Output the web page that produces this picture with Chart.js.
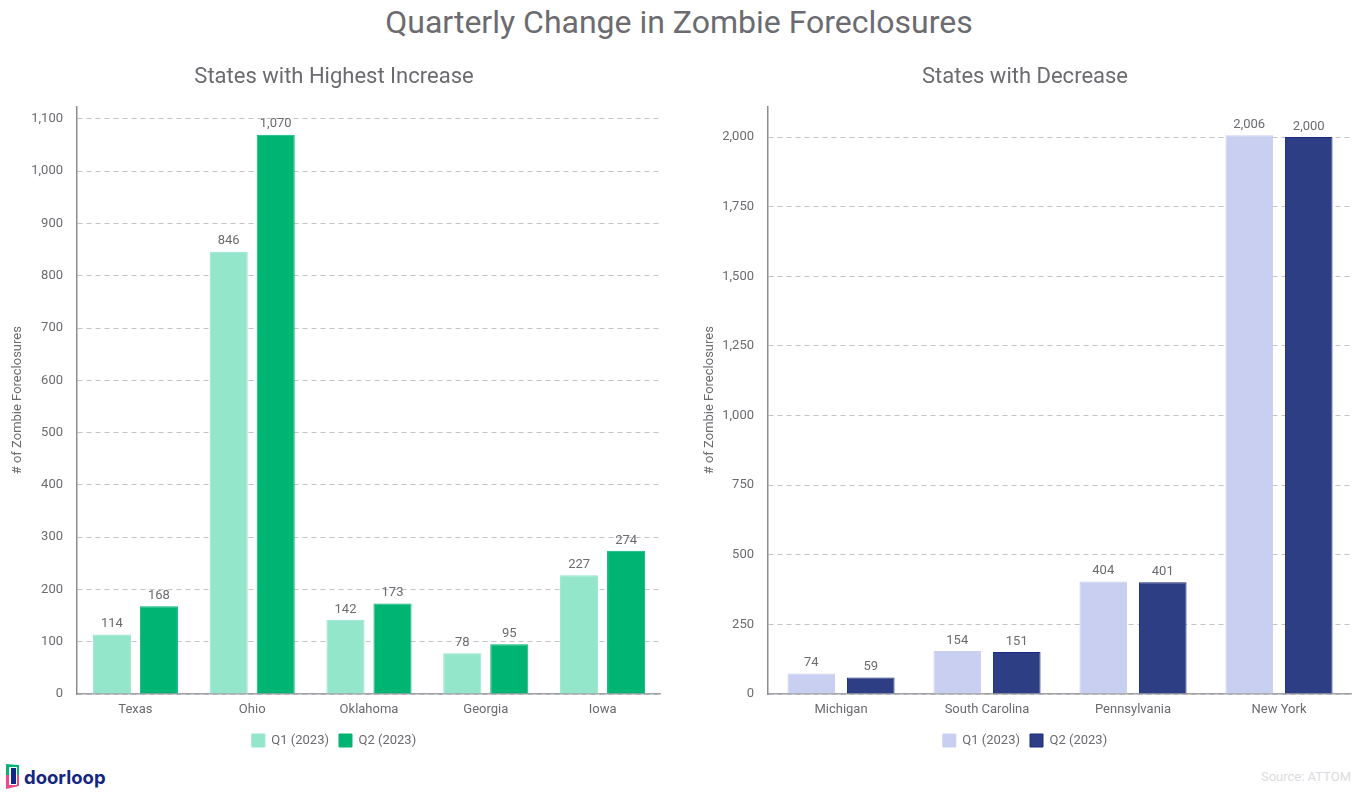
<!DOCTYPE html>
<html>
<head>
<meta charset="utf-8">
<title>Quarterly Change in Zombie Foreclosures</title>
<script src="https://cdn.jsdelivr.net/npm/chart.js@4"></script>
<style>
  html, body { margin: 0; background: #fff; }
  #page { position: relative; width: 1360px; height: 800px; overflow: hidden; font-family: Roboto, sans-serif; }
  #page canvas { position: absolute; top: 60px; }
  #mainTitle { position: absolute; left: -1px; top: 3px; width: 1360px; text-align: center; font-size: 32px; line-height: 38px; color: #6b6b70; }
  #source { position: absolute; right: 9px; top: 769px; font-size: 13px; color: #dcdce0; }
  #brand { position: absolute; left: 24px; top: 763px; font-size: 18.5px; line-height: 28px; font-weight: 700; color: #14267f; font-family: Inter, Roboto, sans-serif; }
  #logo { position: absolute; left: 5px; top: 763px; }
</style>
</head>
<body>
<div id="page">
  <div id="mainTitle">Quarterly Change in Zombie Foreclosures</div>
  <canvas id="chartUp" width="654" height="697" style="left:7px"></canvas>
  <canvas id="chartDown" width="654" height="697" style="left:698px"></canvas>
  <svg id="logo" width="16" height="28" viewBox="0 0 16 28">
    <path d="M1 1 L14 2 L14 12 L1 12 Z" fill="#00b574"/>
    <path d="M1 12 L14 12 L14 23 L1 26 Z" fill="#f0478f"/>
    <rect x="4" y="4" width="8" height="18" fill="#fff"/>
    <rect x="6" y="5" width="5" height="16" fill="#14267f"/>
  </svg>
  <div id="brand">doorloop</div>
  <div id="source">Source: ATTOM</div>
</div>
<script>
var seriesNames = ['Q1 (2023)', 'Q2 (2023)'];

var upStates = ['Texas', 'Ohio', 'Oklahoma', 'Georgia', 'Iowa'];
var upQ1 = [114, 846, 142, 78, 227];
var upQ2 = [168, 1070, 173, 95, 274];
var upTicks = [0, 100, 200, 300, 400, 500, 600, 700, 800, 900, 1000, 1100];

var downStates = ['Michigan', 'South Carolina', 'Pennsylvania', 'New York'];
var downQ1 = [74, 154, 404, 2006];
var downQ2 = [59, 151, 401, 2000];
var downTicks = [0, 250, 500, 750, 1000, 1250, 1500, 1750, 2000];

var textColor = '#6b6b70';
var fontName = 'Roboto';

function fmt(v) {
    return Number(v).toLocaleString('en-US');
}

// values above the bars
var barLabels = {
    id: 'barLabels',
    afterDatasetsDraw: function (chart) {
        var ctx = chart.ctx;
        ctx.save();
        ctx.font = '13px ' + fontName;
        ctx.fillStyle = textColor;
        ctx.textAlign = 'center';
        ctx.textBaseline = 'bottom';
        chart.data.datasets.forEach(function (ds, i) {
            chart.getDatasetMeta(i).data.forEach(function (bar, j) {
                ctx.fillText(fmt(ds.data[j]), bar.x, bar.y - 4);
            });
        });
        ctx.restore();
    }
};

function makeChart(id, cfg) {
    return new Chart(document.getElementById(id).getContext('2d'), {
        type: 'bar',
        data: {
            labels: cfg.labels,
            datasets: [
                { label: seriesNames[0], data: cfg.q1, backgroundColor: cfg.colors[0], borderColor: cfg.borders[0], borderWidth: 1 },
                { label: seriesNames[1], data: cfg.q2, backgroundColor: cfg.colors[1], borderColor: cfg.borders[1], borderWidth: 1 }
            ]
        },
        plugins: [barLabels],
        options: {
            responsive: false,
            animation: false,
            devicePixelRatio: 1,
            categoryPercentage: cfg.catPct,
            barPercentage: cfg.barPct,
            plugins: {
                title: {
                    display: true,
                    text: cfg.title,
                    color: textColor,
                    font: { family: fontName, size: 22, weight: 'normal' },
                    padding: { top: 4, bottom: 16 }
                },
                legend: {
                    position: 'bottom',
                    labels: {
                        boxWidth: 13,
                        boxHeight: 13,
                        padding: 10,
                        color: textColor,
                        font: { family: fontName, size: 13 }
                    }
                },
                tooltip: { enabled: false }
            },
            scales: {
                x: {
                    grid: { display: false },
                    border: { color: '#a2a2a6', width: 1.5 },
                    ticks: { color: textColor, font: { family: fontName, size: 13 }, padding: 0, maxRotation: 0 },
                    afterFit: function (s) { s.height = 30; }
                },
                y: {
                    min: 0,
                    max: cfg.max,
                    afterBuildTicks: function (s) {
                        s.ticks = cfg.ticks.map(function (v) { return { value: v }; });
                    },
                    grid: { color: '#c2c2ca', drawTicks: false },
                    border: { color: '#8c8c90', width: 1.5, dash: [5, 4] },
                    ticks: {
                        color: textColor,
                        padding: 14,
                        font: { family: fontName, size: 13 },
                        callback: function (v) { return fmt(v); }
                    },
                    title: {
                        display: true,
                        text: '# of Zombie Foreclosures',
                        color: textColor,
                        font: { family: fontName, size: 13 },
                        padding: { top: cfg.titlePad, bottom: 0 }
                    },
                    afterFit: function (s) { s.width = cfg.axisWidth; }
                }
            }
        }
    });
}

makeChart('chartUp', {
    title: 'States with Highest Increase',
    labels: upStates, q1: upQ1, q2: upQ2, ticks: upTicks, max: 1124,
    colors: ['#93e6c9', '#00b574'], borders: ['#93e6c9', '#00b574'],
    catPct: 0.805, barPct: 0.81, axisWidth: 70, titlePad: 3
});

makeChart('chartDown', {
    title: 'States with Decrease',
    labels: downStates, q1: downQ1, q2: downQ2, ticks: downTicks, max: 2110,
    colors: ['#c8cff0', '#2d3e85'], borders: ['#c8cff0', '#1a2a80'],
    catPct: 0.815, barPct: 0.80, axisWidth: 70, titlePad: 4
});
</script>
</body>
</html>
